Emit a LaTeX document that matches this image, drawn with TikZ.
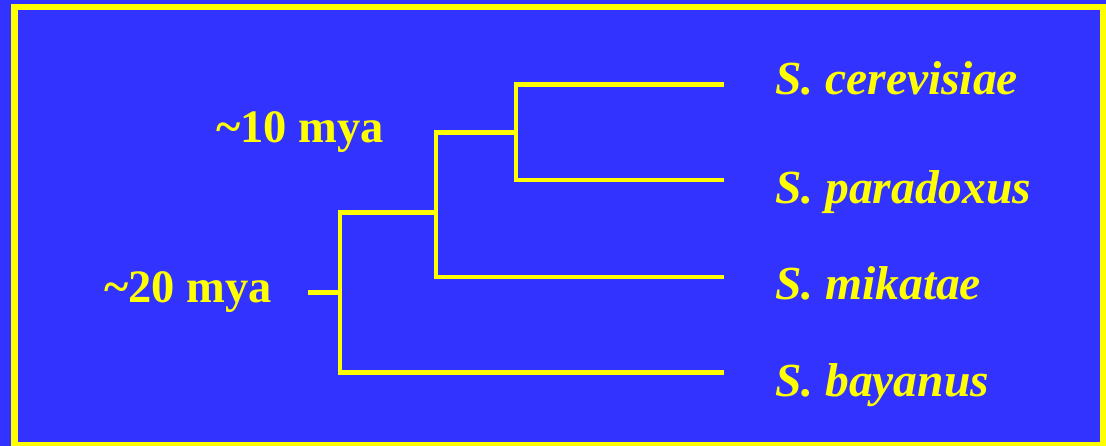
\documentclass[tikz,border=0pt]{standalone}
\usepackage{fontspec}
\setmainfont{Liberation Serif}
\definecolor{bg}{HTML}{3333FF}
\definecolor{yel}{HTML}{FFFF00}
\begin{document}
\begin{tikzpicture}[x=1pt,y=-1pt,
  branch/.style={draw=yel,line width=4.6pt,line join=miter},
  species/.style={text=yel,font=\fontsize{47.5}{50}\selectfont\bfseries\itshape,anchor=base west,inner sep=0pt},
  age/.style={text=yel,font=\fontsize{46.5}{48}\selectfont\bfseries,anchor=base west,inner sep=0pt}]
\fill[bg] (0,0) rectangle (1106,446);
\useasboundingbox (0,0) rectangle (1106,446);
\draw[yel,line width=6.5pt] (14.5,7) rectangle (1103.5,445.5);
% tree coordinates
\coordinate (stub) at (308,292.3);
\coordinate (root) at (340,292.3);
\coordinate (rootT) at (340,212.7);
\coordinate (rootB) at (340,372.3);
\coordinate (c2) at (436,212.7);
\coordinate (c2T) at (436,132.3);
\coordinate (c2B) at (436,277);
\coordinate (c3) at (516,132.3);
\coordinate (c3T) at (516,84.3);
\coordinate (c3B) at (516,180);
\coordinate (lc) at (724,84.3);
\coordinate (lp) at (724,180);
\coordinate (lm) at (724,277);
\coordinate (lb) at (724,372.3);
% branches
\draw[branch] (stub) -- (root);
\draw[branch] (c2) -- (rootT) -- (rootB) -- (lb);
\draw[branch] (c3) -- (c2T) -- (c2B) -- (lm);
\draw[branch] (lc) -- (c3T) -- (c3B) -- (lp);
% labels
\node[species] (sc) at (775,95) {S. cerevisiae};
\node[species] (sp) at (775,204) {S. paradoxus};
\node[species] (sm) at (775,300) {S. mikatae};
\node[species] (sb) at (775,396.7) {S. bayanus};
\node[age] (a10) at (216,143) {\char`\~10 mya};
\node[age] (a20) at (104,303) {\char`\~20 mya};
\end{tikzpicture}
\end{document}
